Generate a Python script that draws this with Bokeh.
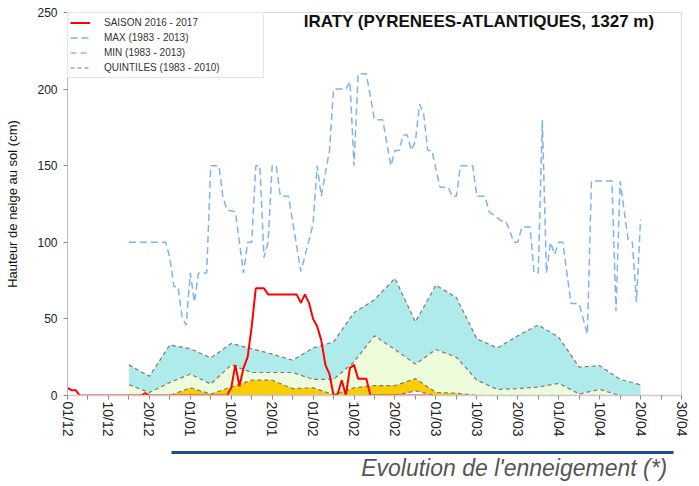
from bokeh.plotting import figure
from bokeh.models import Range1d, FixedTicker, Legend, LegendItem, Label
from bokeh.layouts import column
from bokeh.embed import file_html
from bokeh.resources import INLINE
from bokeh.core.properties import value

# ---------------- data ----------------
# x position: day index, tick every 5, label every 10
x_tick_pos = [0, 5, 10, 15, 20, 25, 30, 35, 40, 45, 50, 55, 60, 65, 70, 75,
              80, 85, 90, 95, 100, 105, 110, 115, 120, 125, 130, 135, 140, 145, 150]
x_label_pos = [0, 10, 20, 30, 40, 50, 60, 70, 80, 90, 100, 110, 120, 130, 140, 150]
x_labels = ["01/12", "10/12", "20/12", "01/01", "10/01", "20/01", "01/02", "10/02",
            "20/02", "01/03", "10/03", "20/03", "01/04", "10/04", "20/04", "30/04"]

# quintiles (1983 - 2010)
q_days = [15, 20, 25, 30, 35, 40, 45, 50, 55, 60, 65, 70, 75, 80, 85, 90,
          95, 100, 105, 110, 115, 120, 125, 130, 135, 140]
q80 = [20, 12.5, 33, 30.5, 24.5, 34, 30.5, 27, 23, 31, 35, 54, 62.5, 76.5, 48, 72,
       64, 37, 31, 39, 46, 38, 18.5, 19.5, 10.5, 7]
q60 = [7, 2, 8.5, 14, 7.5, 20, 15, 15, 15, 10.5, 10.5, 22, 39, 30, 20.5, 30,
       25, 10, 4, 4.5, 5.5, 8, 1, 4, 0, 0]
q40 = [0, 0, 0, 5, 1, 5.5, 10, 10, 4.5, 5, 0.5, 5, 6.5, 6.5, 11, 2,
       1.5, 0, 0, 0, 0, 0, 0, 0, 0, 0]
q20 = [0, 0, 0, 0, 0, 0, 0, 0, 0, 0, 0, 0, 0, 0, 3, 0,
       0, 0, 0, 0, 0, 0, 0, 0, 0, 0]

# MAX (1983 - 2013)
max_days = [15, 24, 25, 26, 27, 28, 29, 30, 31, 32, 34, 35, 37, 38, 39, 41, 43, 44, 45,
            46, 47, 48, 49, 50, 51, 52, 54, 57, 58, 60, 61, 62, 64, 65, 68, 69, 70, 71,
            73, 75, 77, 79, 80, 81, 82, 83, 84, 85, 86, 87, 88, 89, 91, 93, 94, 95, 96,
            99, 100, 102, 103, 105, 106, 107, 108, 109, 110, 111, 113, 114, 115, 116,
            117, 118, 119, 120, 121, 123, 125, 127, 128, 133, 134, 135, 137, 138, 139, 140]
max_vals = [100, 100, 90, 71, 71, 51, 46, 80, 61, 80, 80, 150, 150, 129, 121, 120, 80, 100, 100,
            150, 150, 90, 100, 150, 150, 130, 130, 81, 91, 112, 150, 130, 160, 200, 200, 205, 150, 210,
            210, 180, 180, 150, 160, 160, 170, 170, 160, 166, 190, 184, 160, 160, 136, 136, 130, 130, 150,
            150, 130, 130, 120, 116, 114, 114, 108, 100, 100, 110, 110, 80, 80, 180,
            80, 100, 92, 100, 100, 60, 60, 40, 140, 140, 55, 140, 101, 100, 61, 115]

# MIN (1983 - 2013)
min_days = [15, 140]
min_vals = [0, 0]

# SAISON 2016 - 2017
season_days = [0, 1, 2, 3, 18, 19, 20, 39, 40, 41, 42, 43, 44, 45, 46, 48, 49, 56, 57, 58,
               59, 60, 61, 62, 63, 64, 65, 66, 67, 68, 69, 70, 71, 73, 74, 89]
season_vals = [5, 3.5, 3.5, 0, 0, 1.5, 0, 0, 5, 20, 6, 18, 25, 45, 70, 70, 66, 66, 60.5, 66,
               60.5, 50, 45, 36, 20, 14, 0, 1, 10, 0, 18, 20, 11, 11, 0, 0]

# ---------------- figure ----------------
FONT = "Liberation Sans"

p = figure(width=691, height=440, x_range=Range1d(0, 150), y_range=Range1d(0, 250),
           toolbar_location=None, output_backend="svg",
           min_border_left=67, min_border_right=10, min_border_top=12, min_border_bottom=45)
p.grid.visible = False
p.outline_line_color = "#d9d9d9"
p.background_fill_color = "white"
p.border_fill_color = "white"

# quintile fills
p.varea(x=q_days, y1=q60, y2=q80, fill_color="#b0ebeb")
p.varea(x=q_days, y1=q40, y2=q60, fill_color="#edfcdb")
p.varea(x=q_days, y1=q20, y2=q40, fill_color="#f9cd00")

q_style = dict(line_color="#7a7a7a", line_width=1.2, line_dash="4 3")
r_q80 = p.line(q_days, q80, **q_style)
p.line(q_days, q60, **q_style)
p.line(q_days, q40, **q_style)
p.line(q_days, q20, **q_style)

r_min = p.line(min_days, min_vals, line_color="#e3a586", line_width=1.5, line_dash="6 4")
r_max = p.line(max_days, max_vals, line_color="#7fb2f0", line_width=1.5, line_dash="7 4")
r_season = p.line(season_days, season_vals, line_color="#ff0000", line_width=2)

# axes
p.xaxis.ticker = FixedTicker(ticks=x_tick_pos)
overrides = {t: "" for t in x_tick_pos}
for pos, lab in zip(x_label_pos, x_labels):
    overrides[pos] = lab
p.xaxis.major_label_overrides = overrides
p.xaxis.major_label_orientation = "vertical"
p.xaxis.minor_tick_line_color = None
p.xaxis.major_tick_in = 0
p.xaxis.major_tick_out = 4
p.xaxis.major_tick_line_color = "#888888"
p.xaxis.axis_line_color = "#cccccc"
p.xaxis.axis_line_width = 1.5
p.xaxis.major_label_standoff = 2
p.xaxis.major_label_text_font = FONT
p.xaxis.major_label_text_font_size = "14px"
p.xaxis.major_label_text_color = "#222222"

p.yaxis.ticker = FixedTicker(ticks=[0, 50, 100, 150, 200, 250])
p.yaxis.minor_tick_line_color = None
p.yaxis.major_tick_in = 0
p.yaxis.major_tick_out = 4
p.yaxis.major_tick_line_color = "#888888"
p.yaxis.axis_line_color = "#bbbbbb"
p.yaxis.major_label_standoff = 6
p.yaxis.major_label_text_font = FONT
p.yaxis.major_label_text_font_size = "12px"
p.yaxis.major_label_text_color = "#222222"
p.yaxis.axis_label = "Hauteur de neige au sol (cm)"
p.yaxis.axis_label_text_font = FONT
p.yaxis.axis_label_text_font_size = "13px"
p.yaxis.axis_label_text_font_style = "normal"
p.yaxis.axis_label_text_color = "#111111"
p.yaxis.axis_label_standoff = 14

# legend
legend = Legend(items=[
    LegendItem(label="SAISON 2016 - 2017", renderers=[r_season]),
    LegendItem(label="MAX (1983 - 2013)", renderers=[r_max]),
    LegendItem(label="MIN (1983 - 2013)", renderers=[r_min]),
    LegendItem(label="QUINTILES (1983 - 2010)", renderers=[r_q80]),
], location="top_left")
legend.margin = 0
legend.padding = 2
legend.spacing = 0
legend.glyph_width = 20
legend.glyph_height = 15
legend.label_height = 15
legend.label_width = 157
legend.label_standoff = 14
legend.label_text_font = FONT
legend.label_text_font_size = "10px"
legend.label_text_color = "#333333"
legend.border_line_color = "#cccccc"
legend.background_fill_color = "white"
legend.background_fill_alpha = 1
p.add_layout(legend)

title = Label(x=57.7, y=243.8, text="IRATY  (PYRENEES-ATLANTIQUES, 1327 m)",
              text_font=FONT, text_font_style="bold", text_font_size="17px",
              text_align="left", text_baseline="middle", text_color="#111111")
p.add_layout(title)

# bottom band: rule and caption
p2 = figure(width=691, height=44, x_range=Range1d(0, 691), y_range=Range1d(0, 44),
            toolbar_location=None, output_backend="svg", min_border=0,
            x_axis_location=None, y_axis_location=None)
p2.grid.visible = False
p2.outline_line_color = None
p2.segment(x0=[117], y0=[32], x1=[682], y1=[32], line_width=3, line_color="#1f4e8f")
p2.text(x=[675], y=[17], text=["Evolution de l'enneigement (*)"],
        text_font=value(FONT), text_font_style="italic", text_font_size="23px",
        text_align="right", text_baseline="middle", text_color="#555555")

layout = column(p, p2, spacing=0)
open("out.html", "w").write(file_html(layout, INLINE))
